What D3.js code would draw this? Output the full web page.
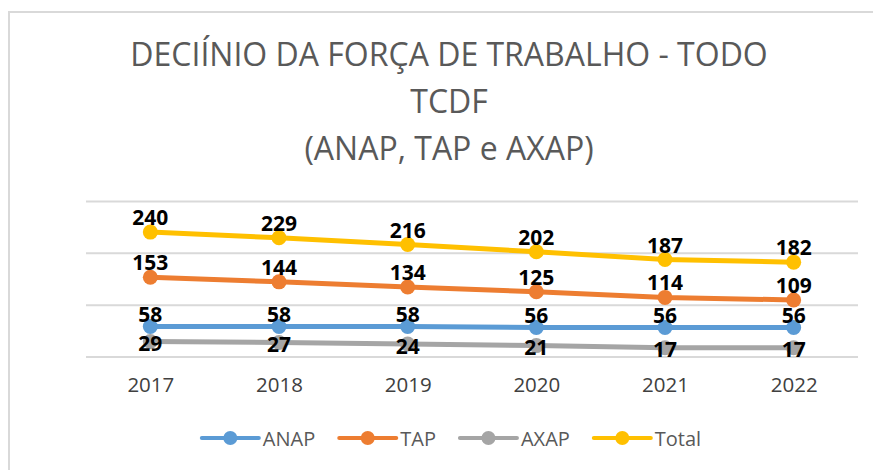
<!DOCTYPE html>
<html>
<head>
<meta charset="utf-8">
<script src="https://cdn.jsdelivr.net/npm/d3@7"></script>
<style>
  body { margin: 0; background: #fff; }
  svg { display: block; font-family: "Open Sans", sans-serif; }
</style>
</head>
<body>
<div id="chart"></div>
<script>
// Données
const years = ["2017", "2018", "2019", "2020", "2021", "2022"];
const anap = [58, 58, 58, 56, 56, 56];
const tap = [153, 144, 134, 125, 114, 109];
const axap = [29, 27, 24, 21, 17, 17];
const total = [240, 229, 216, 202, 187, 182];
const yTicks = [0, 100, 200, 300];
const titleLines = ["DECIÍNIO DA FORÇA DE TRABALHO - TODO", "TCDF", "(ANAP, TAP e AXAP)"];

const series = [
    { name: "ANAP", values: anap, color: "#5B9BD5", dy: -12 },
    { name: "TAP", values: tap, color: "#ED7D31", dy: -15 },
    { name: "AXAP", values: axap, color: "#A5A5A5", dy: 1.5 },
    { name: "Total", values: total, color: "#FFC000", dy: -15 }
];

const width = 873, height = 470;
const plot = { left: 86, right: 858, top: 201, bottom: 356.5 };

const svg = d3.select("#chart").append("svg")
    .attr("width", width).attr("height", height);

// cadre du graphique
svg.append("rect")
    .attr("x", 9).attr("y", 12)
    .attr("width", width + 20).attr("height", height + 20)
    .attr("fill", "#fff")
    .attr("stroke", "#d9d9d9").attr("stroke-width", 2);

// titre
const title = svg.append("g").attr("transform", "translate(449,0)");
title.selectAll("text")
    .data(titleLines)
    .enter().append("text")
    .attr("x", 0)
    .attr("y", (d, i) => 66 + i * 47)
    .attr("text-anchor", "middle")
    .style("font-size", "32px")
    .attr("fill", "#595959")
    .text(d => d);

// échelles
const x = d3.scalePoint().domain(years).range([plot.left, plot.right]).padding(0.5);
const y = d3.scaleLinear().domain([0, 300]).range([plot.bottom, plot.top]);

// grille
svg.append("g")
    .attr("transform", `translate(${plot.left},0)`)
    .call(d3.axisLeft(y).tickValues(yTicks).tickSize(-(plot.right - plot.left)).tickFormat(""))
    .call(g => g.select(".domain").remove())
    .call(g => g.selectAll("line").attr("stroke", "#d9d9d9").attr("stroke-width", 2));

// axe X
svg.append("g")
    .attr("transform", `translate(0,${plot.bottom})`)
    .call(d3.axisBottom(x).tickSize(0).tickPadding(21))
    .call(g => g.select(".domain").remove())
    .call(g => g.selectAll("text")
        .style("font-size", "20.5px")
        .style("font-family", "'Open Sans', sans-serif")
        .attr("fill", "#404040"));

// lignes
const line = d3.line().x((d, i) => x(years[i])).y(d => y(d));

const groups = svg.selectAll(".serie")
    .data(series)
    .enter().append("g")
    .attr("class", "serie");

groups.append("path")
    .attr("d", d => line(d.values))
    .attr("fill", "none")
    .attr("stroke", d => d.color)
    .attr("stroke-width", 5)
    .attr("stroke-linecap", "round");

groups.selectAll("circle")
    .data(d => d.values.map((v, i) => ({ v, i, s: d })))
    .enter().append("circle")
    .attr("cx", d => x(years[d.i]))
    .attr("cy", d => y(d.v))
    .attr("r", 7.5)
    .attr("fill", d => d.s.color);

groups.selectAll("text")
    .data(d => d.values.map((v, i) => ({ v, i, s: d })))
    .enter().append("text")
    .attr("x", d => x(years[d.i]))
    .attr("y", d => y(d.v) + d.s.dy)
    .attr("text-anchor", "middle")
    .attr("dominant-baseline", "central")
    .style("font-size", "21px")
    .style("font-weight", "bold")
    .attr("fill", "#000")
    .text(d => d.v);

// légende
const legend = svg.append("g");
let lx = 0;
series.forEach(s => {
    const item = legend.append("g").attr("transform", `translate(${lx},438)`);
    item.append("line")
        .attr("x1", 0).attr("x2", 57)
        .attr("stroke", s.color).attr("stroke-width", 4).attr("stroke-linecap", "round");
    item.append("circle").attr("cx", 28.5).attr("r", 7).attr("fill", s.color);
    const t = item.append("text")
        .attr("x", 61)
        .attr("dominant-baseline", "central")
        .style("font-size", "20px")
        .attr("fill", "#595959")
        .text(s.name);
    lx += 61 + t.node().getComputedTextLength() + 24;
});
const legendWidth = lx - 24;
legend.attr("transform", `translate(${451.5 - legendWidth / 2},0)`);
</script>
</body>
</html>
